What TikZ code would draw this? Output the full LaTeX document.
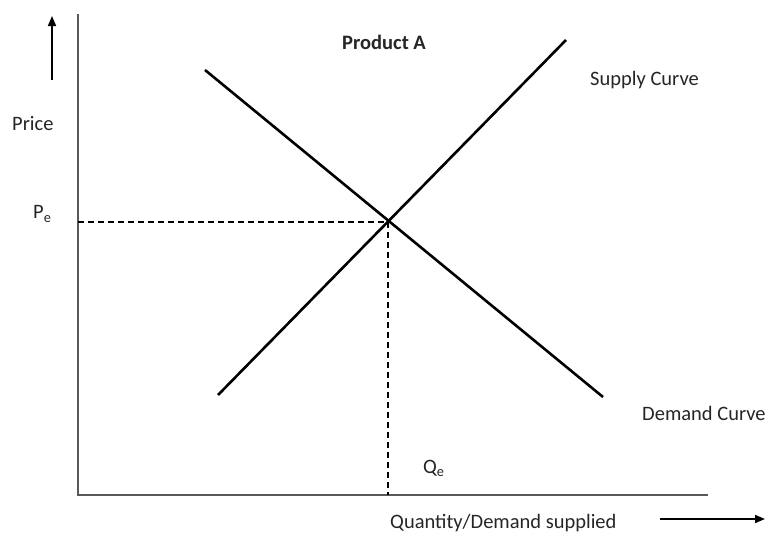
\documentclass[tikz,border=0pt]{standalone}
\usepackage{fontspec}
\setmainfont{Carlito}
\usetikzlibrary{arrows.meta}
\begin{document}
\begin{tikzpicture}[x=1pt,y=-1pt,
  axis/.style={draw=black!65,line width=1.5pt},
  curve/.style={draw=black,line width=2.6pt},
  guide/.style={draw=black,line width=1.3pt,dash pattern=on 6pt off 4pt},
  hint/.style={draw=black,line width=1.6pt,-{Triangle[length=10pt,width=8pt]}},
  lbl/.style={font=\fontsize{20.5}{24}\selectfont,text=black!85,inner sep=0pt}]
\useasboundingbox (0,0) rectangle (765,533);
\fill[white] (0,0) rectangle (765,533);
% axes
\coordinate (o) at (78,495);
\coordinate (ytop) at (78,14);
\coordinate (xend) at (708,495);
\draw[axis] (ytop) -- (o) -- (xend);
% direction hints
\coordinate (ua) at (52,80);
\coordinate (ub) at (52,16);
\draw[hint] (ua) -- (ub);
\coordinate (ra) at (660,519);
\coordinate (rb) at (765,519);
\draw[hint] (ra) -- (rb);
% demand and supply
\coordinate (d1) at (205,70);
\coordinate (d2) at (603,397);
\coordinate (s1) at (218,395);
\coordinate (s2) at (566,40);
\coordinate (eq) at (388,222);
\draw[curve] (d1) -- (d2);
\draw[curve] (s1) -- (s2);
% equilibrium guides
\coordinate (pe) at (78,222);
\coordinate (qe) at (388,495);
\draw[guide] (pe) -- (eq);
\draw[guide] (eq) -- (qe);
% labels
\node[lbl,font=\fontsize{20.5}{24}\selectfont\bfseries,anchor=west] (title) at (342,42) {Product A};
\node[lbl,anchor=west] (price) at (12,124) {Price};
\node[lbl,anchor=west] (plab) at (33,214) {P\textsubscript{e}};
\node[lbl,anchor=west] (slab) at (590,80) {Supply Curve};
\node[lbl,anchor=west] (dlab) at (642,413) {Demand Curve};
\node[lbl,anchor=west] (qlab) at (423,468) {Q\textsubscript{e}};
\node[lbl,anchor=west] (xlab) at (390,523) {Quantity/Demand supplied};
\end{tikzpicture}
\end{document}
